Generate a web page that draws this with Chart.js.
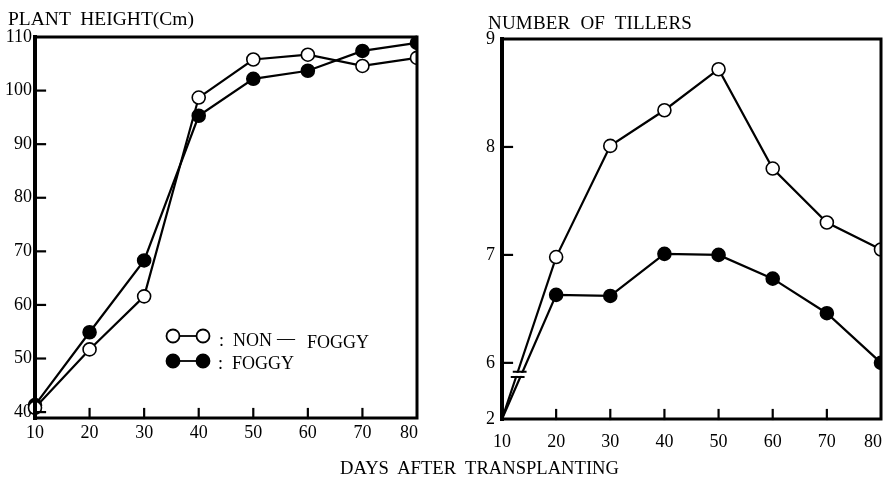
<!DOCTYPE html>
<html><head><meta charset="utf-8">
<script src="https://cdn.jsdelivr.net/npm/chart.js@4.4.1/dist/chart.umd.min.js"></script>
<style>
html,body{margin:0;padding:0;background:#fff;}
body{width:883px;height:481px;position:relative;overflow:hidden;font-family:'Liberation Serif','DejaVu Serif',serif;color:#000;}
.c{position:absolute;top:0;height:481px;}
#wa{left:0;width:440px;}
#wb{left:440px;width:443px;}
.t{position:absolute;white-space:pre;line-height:1;}
</style></head><body>
<div id="wa" class="c"><canvas id="ca" width="440" height="481"></canvas></div>
<div id="wb" class="c"><canvas id="cb" width="443" height="481"></canvas></div>
<div class="t" style="left:8px;top:9px;font-size:19.5px;">PLANT  HEIGHT(Cm)</div>
<div class="t" style="left:488px;top:13px;font-size:19px;letter-spacing:0.2px;">NUMBER  OF  TILLERS</div>
<div class="t" style="left:340px;top:459px;font-size:18.6px;">DAYS  AFTER  TRANSPLANTING</div>
<script>
// ---- data ----
const days = [10, 20, 30, 40, 50, 60, 70, 80];
const heightNonFoggy = [40.8, 51.7, 61.6, 98.7, 105.8, 106.7, 104.6, 106.1];
const heightFoggy    = [41.3, 54.9, 68.3, 95.3, 102.2, 103.7, 107.4, 108.9];
const tillersNonFoggy = [2, 6.98, 8.01, 8.34, 8.72, 7.80, 7.30, 7.05];
const tillersFoggy    = [2, 6.63, 6.62, 7.01, 7.00, 6.78, 6.46, 6.00];
const dayTicks = [10, 20, 30, 40, 50, 60, 70, 80];
const heightTicks = [40, 50, 60, 70, 80, 90, 100, 110];
const tillerTicks = [2, 6, 7, 8, 9];
const seriesNames = ['NON — FOGGY', 'FOGGY'];

const FONT = "'Liberation Serif','DejaVu Serif',serif";
const { LinearScale } = Chart;

// y scale with a broken lower part: values below breakBelow sit on the axis floor
class BrokenLinearScale extends LinearScale {
  getPixelForValue(value) {
    const b = this.options.breakBelow;
    if (b !== undefined && value !== null && value < b) value = this.min;
    return super.getPixelForValue(value);
  }
}
BrokenLinearScale.id = 'brokenLinear';
BrokenLinearScale.defaults = LinearScale.defaults;

// x scale whose last label is right-aligned to the plot edge
class EdgeLinearScale extends LinearScale {
  _computeLabelItems(chartArea) {
    const items = super._computeLabelItems(chartArea);
    const last = items[items.length - 1];
    if (last) {
      last.options.textAlign = 'right';
      last.options.translation[0] = this.right + 1;
    }
    return items;
  }
}
EdgeLinearScale.id = 'edgeLinear';
EdgeLinearScale.defaults = LinearScale.defaults;
Chart.register(BrokenLinearScale, EdgeLinearScale);

function zeroPad(s) { s.paddingLeft = 0; s.paddingRight = 0; s.paddingTop = 0; s.paddingBottom = 0; }
function pts(arr) { return days.map((d, i) => ({ x: d, y: arr[i] })); }

const framePlugin = {
  id: 'frame',
  afterDatasetsDraw(chart) {
    const { ctx, chartArea: a } = chart;
    ctx.save();
    ctx.strokeStyle = '#000';
    ctx.lineCap = 'square';
    // inward tick marks
    ctx.lineWidth = 2.2;
    const xs = chart.scales.x, ys = chart.scales.y;
    xs.ticks.forEach(t => {
      const px = xs.getPixelForValue(t.value);
      if (px < a.left + 3 || px > a.right - 3) return;
      ctx.beginPath(); ctx.moveTo(px, a.bottom); ctx.lineTo(px, a.bottom - 9); ctx.stroke();
    });
    ys.ticks.forEach(t => {
      const py = ys.getPixelForValue(t.value);
      if (py < a.top + 3 || py > a.bottom - 3) return;
      ctx.beginPath(); ctx.moveTo(a.left, py); ctx.lineTo(a.left + 10, py); ctx.stroke();
    });
    // frame
    ctx.lineWidth = 3;
    ctx.strokeRect(a.left, a.top, a.right - a.left, a.bottom - a.top);
    ctx.lineWidth = 4;
    ctx.beginPath(); ctx.moveTo(a.left, a.top); ctx.lineTo(a.left, a.bottom); ctx.stroke();
    ctx.restore();
  }
};

const legendPlugin = {
  id: 'innerLegend',
  afterDraw(chart) {
    const { ctx, chartArea: a } = chart;
    const x0 = a.left + 138, y1 = a.top + 299, y2 = a.top + 324;
    ctx.save();
    ctx.strokeStyle = '#000'; ctx.lineWidth = 1.8;
    const drawRow = (y, fill) => {
      ctx.beginPath(); ctx.moveTo(x0, y); ctx.lineTo(x0 + 30, y); ctx.stroke();
      [x0, x0 + 30].forEach(cx => {
        ctx.beginPath(); ctx.arc(cx, y, 6.5, 0, Math.PI * 2);
        ctx.fillStyle = fill; ctx.fill(); ctx.stroke();
      });
    };
    drawRow(y1, '#fff');
    drawRow(y2, '#000');
    ctx.fillStyle = '#000';
    ctx.font = '18px ' + FONT;
    ctx.textBaseline = 'middle';
    ctx.fillText(':  NON', x0 + 46, y1 + 5);
    ctx.fillText('—', x0 + 104, y1 + 3);
    ctx.fillText('FOGGY', x0 + 134, y1 + 7);
    ctx.fillText(':  ' + seriesNames[1], x0 + 45, y2 + 3);
    ctx.restore();
  }
};

const breakPlugin = {
  id: 'axisBreak',
  afterDatasetsDraw(chart) {
    const { ctx, chartArea: a } = chart;
    const ys = chart.scales.y;
    const y6 = ys.getPixelForValue(tillerTicks[1]);
    const yA = a.bottom - 0.84 * (a.bottom - y6);
    const yB = a.bottom - 0.75 * (a.bottom - y6);
    const xAt = (ds, y) => {
      const m = chart.getDatasetMeta(ds).data;
      const p0 = m[0], p1 = m[1];
      return p0.x + (p1.x - p0.x) * (p0.y - y) / (p0.y - p1.y);
    };
    const xl = Math.min(xAt(0, yA), xAt(1, yA)) - 5;
    const xr = Math.max(xAt(0, yA), xAt(1, yA)) + 4;
    ctx.save();
    ctx.fillStyle = '#fff';
    ctx.fillRect(xl - 3, yA + 1, xr - xl + 6, yB - yA - 2);
    ctx.strokeStyle = '#000'; ctx.lineWidth = 2;
    ctx.beginPath();
    ctx.moveTo(xl, yA); ctx.lineTo(xr, yA);
    ctx.moveTo(xl - 2, yB); ctx.lineTo(xr - 2, yB);
    ctx.stroke();
    ctx.restore();
  }
};

function dataset(label, arr, fill, radiusFn) {
  return {
    label, data: pts(arr),
    borderColor: '#000', borderWidth: 2.2,
    pointBackgroundColor: fill, pointBorderColor: '#000', pointBorderWidth: 1.6,
    pointRadius: radiusFn, pointHoverRadius: radiusFn,
    tension: 0, clip: { left: 12, top: 12, right: 0, bottom: 12 }
  };
}

function makeChart(id, cfg) {
  return new Chart(document.getElementById(id), {
    type: 'line',
    data: { datasets: cfg.datasets },
    options: {
      responsive: false, animation: false, events: [],
      layout: { padding: cfg.padding, autoPadding: false },
      plugins: { legend: { display: false }, tooltip: { enabled: false }, title: { display: false } },
      scales: {
        x: {
          type: 'edgeLinear', min: dayTicks[0], max: dayTicks[dayTicks.length - 1],
          afterBuildTicks: s => { s.ticks = dayTicks.map(v => ({ value: v })); },
          afterFit: s => { s.height = cfg.xHeight; zeroPad(s); },
          grid: { display: false, drawTicks: false }, border: { display: false },
          ticks: { color: '#000', font: { family: FONT, size: 18 }, padding: cfg.xPad, maxRotation: 0, autoSkip: false }
        },
        y: Object.assign({
          min: cfg.yMin, max: cfg.yMax,
          afterBuildTicks: s => { s.ticks = cfg.yTicks.map(v => ({ value: v })); },
          afterFit: s => { s.width = cfg.yWidth; zeroPad(s); },
          grid: { display: false, drawTicks: false }, border: { display: false },
          ticks: { color: '#000', font: { family: FONT, size: 18 }, padding: cfg.yPad, autoSkip: false }
        }, cfg.yExtra || {})
      }
    },
    plugins: cfg.plugins
  });
}

makeChart('ca', {
  datasets: [
    dataset(seriesNames[0], heightNonFoggy, '#fff', 6.5),
    dataset(seriesNames[1], heightFoggy, '#000', 6.5)
  ],
  padding: { left: 0, top: 37, right: 23, bottom: 0 },
  xHeight: 63, yWidth: 35, xPad: 4, yPad: 3,
  yMin: 38.9, yMax: 110, yTicks: heightTicks,
  plugins: [framePlugin, legendPlugin]
});

const tillerRadius = ctx => (ctx.dataIndex === 0 ? 0 : 6.5);
makeChart('cb', {
  datasets: [
    dataset(seriesNames[0], tillersNonFoggy, '#fff', tillerRadius),
    dataset(seriesNames[1], tillersFoggy, '#000', tillerRadius)
  ],
  padding: { left: 0, top: 39, right: 2, bottom: 0 },
  xHeight: 62, yWidth: 62, xPad: 12, yPad: 7,
  yMin: 5.48, yMax: 9, yTicks: tillerTicks,
  yExtra: { type: 'brokenLinear', breakBelow: 5.48 },
  plugins: [breakPlugin, framePlugin]
});
</script>
</body></html>
